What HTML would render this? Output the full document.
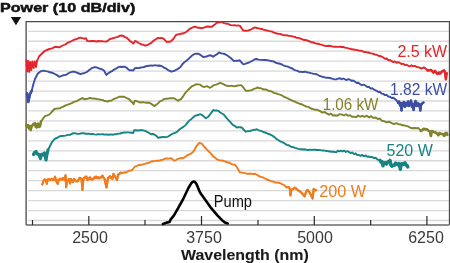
<!DOCTYPE html>
<html><head><meta charset="utf-8"><style>
html,body{margin:0;padding:0;background:#fff;}
body{width:450px;height:263px;overflow:hidden;position:relative;font-family:"Liberation Sans",sans-serif;}
svg{position:absolute;left:0;top:0;will-change:transform;}
</style></head><body>
<svg width="450" height="263" viewBox="0 0 450 263">
<g stroke="#d8d8d8" stroke-width="1.3"><line x1="28" y1="31.30" x2="449" y2="31.30"/><line x1="28" y1="41.26" x2="449" y2="41.26"/><line x1="28" y1="51.22" x2="449" y2="51.22"/><line x1="28" y1="61.17" x2="449" y2="61.17"/><line x1="28" y1="71.13" x2="449" y2="71.13"/><line x1="28" y1="81.09" x2="449" y2="81.09"/><line x1="28" y1="91.05" x2="449" y2="91.05"/><line x1="28" y1="101.01" x2="449" y2="101.01"/><line x1="28" y1="110.96" x2="449" y2="110.96"/><line x1="28" y1="120.92" x2="449" y2="120.92"/><line x1="28" y1="130.88" x2="449" y2="130.88"/><line x1="28" y1="140.84" x2="449" y2="140.84"/><line x1="28" y1="150.80" x2="449" y2="150.80"/><line x1="28" y1="160.75" x2="449" y2="160.75"/><line x1="28" y1="170.71" x2="449" y2="170.71"/><line x1="28" y1="180.67" x2="449" y2="180.67"/><line x1="28" y1="190.63" x2="449" y2="190.63"/><line x1="28" y1="200.59" x2="449" y2="200.59"/><line x1="28" y1="210.54" x2="449" y2="210.54"/><line x1="28" y1="220.50" x2="449" y2="220.50"/></g>
<g stroke="#4a4a4a" stroke-width="1.3" fill="none">
<polyline points="26.1,225 26.1,21.7 449.5,21.7 449.5,225"/>
</g>
<line x1="26" y1="225" x2="449" y2="225" stroke="#6a6a6a" stroke-width="1.5"/>
<g stroke="#2a2a2a" stroke-width="1.2"><line x1="88.8" y1="216" x2="88.8" y2="225"/><line x1="201.5" y1="216" x2="201.5" y2="225"/><line x1="314.3" y1="216" x2="314.3" y2="225"/><line x1="426.9" y1="216" x2="426.9" y2="225"/><line x1="32.5" y1="220" x2="32.5" y2="225"/><line x1="145" y1="220" x2="145" y2="225"/><line x1="258" y1="220" x2="258" y2="225"/><line x1="370.7" y1="220" x2="370.7" y2="225"/></g>
<polygon points="10.8,16.9 21.1,16.9 15.95,25.2" fill="#111"/>
<g fill="none" stroke-width="1.9" stroke-linejoin="round" stroke-linecap="round">
<polyline stroke="#e2262b" points="26.4,60.0 27.2,71.5 28.2,61.0 29.2,72.0 30.2,62.0 31.2,70.0 32.4,61.5 33.6,68.0 34.8,61.5 36.0,67.0 37.0,61.0 37.5,60.0 39.0,56.5 42.0,53.5 44.4,51.2 46.7,50.0 49.5,49.0 52.0,48.3 55.0,46.8 57.1,47.0 59.3,47.4 61.6,46.0 63.9,45.0 65.8,44.1 67.8,42.7 69.8,42.0 71.7,41.0 73.4,40.2 75.1,39.4 76.9,39.0 78.6,38.0 80.3,37.7 82.2,38.2 84.0,38.7 86.0,38.3 87.3,41.0 90.0,41.3 91.7,41.0 93.3,41.0 95.0,41.2 96.7,41.5 98.3,41.0 100.0,41.3 101.8,41.1 103.5,41.4 105.2,41.6 107.0,41.3 110.0,39.0 112.0,38.5 114.0,37.8 116.0,37.3 118.0,36.8 120.0,35.7 121.7,35.5 123.3,35.9 125.0,37.1 126.7,37.7 128.3,39.2 130.0,41.0 131.7,42.1 133.3,43.7 135.0,41.0 136.7,41.6 138.3,42.7 140.0,43.7 141.8,44.6 143.5,44.8 145.3,45.7 147.7,44.8 150.0,43.7 151.7,42.5 153.3,40.9 155.0,39.7 158.0,37.9 159.7,38.1 161.3,37.9 163.0,38.3 164.8,39.8 166.7,42.0 168.3,41.6 170.0,41.7 171.7,40.5 173.3,39.0 176.0,35.0 178.0,34.4 180.0,34.0 182.0,33.5 184.0,33.3 185.7,32.2 187.3,31.0 190.0,28.7 191.7,28.0 193.3,27.2 195.0,26.7 197.0,27.5 199.0,27.8 202.0,28.2 204.0,27.6 206.0,26.7 208.0,26.5 210.0,26.8 212.0,26.7 213.7,25.3 215.3,24.2 217.0,22.5 218.7,22.5 220.3,22.0 222.0,22.0 224.0,23.1 226.0,23.6 227.7,23.8 229.3,24.5 231.0,25.1 232.8,25.4 234.6,25.2 236.4,25.6 238.2,25.4 240.0,25.9 241.7,28.4 243.3,30.6 245.7,30.8 248.0,30.6 249.8,29.9 251.5,29.3 253.2,28.1 255.0,27.4 256.7,28.0 258.3,28.3 260.0,28.7 261.7,29.0 263.4,29.7 265.0,30.2 266.7,30.3 268.4,30.8 270.0,31.4 271.7,31.4 273.3,32.3 275.0,32.8 276.7,33.5 278.3,33.8 280.0,33.9 281.6,34.5 283.3,35.0 285.0,35.4 286.6,35.2 288.3,35.8 290.0,35.9 291.6,36.1 293.3,36.7 295.0,36.9 296.6,37.8 298.3,37.9 300.0,38.4 301.7,39.0 303.3,39.8 305.0,40.0 306.7,40.2 308.3,41.0 310.0,41.5 311.6,42.3 313.3,42.5 315.0,43.2 316.6,43.7 318.3,43.7 320.0,44.3 321.6,44.7 323.3,45.3 325.0,45.8 326.6,46.1 328.3,45.8 330.0,46.0 331.6,46.3 333.3,46.7 335.0,46.6 336.7,46.8 338.3,46.9 340.0,46.8 341.7,47.0 343.4,47.0 345.0,47.6 346.7,47.9 348.3,48.4 350.0,48.7 351.7,49.3 353.3,49.5 355.0,49.7 356.6,50.1 358.3,50.3 360.0,50.8 361.6,50.7 363.3,51.7 365.0,52.0 366.6,52.4 368.3,52.5 370.0,53.2 371.6,53.4 373.3,53.9 375.0,54.5 376.7,54.8 378.3,55.8 380.0,56.0 381.6,56.6 383.3,57.5 385.0,58.7 386.7,58.5 388.3,60.2 390.0,60.0 391.7,61.2 393.4,62.1 395.0,61.4 396.7,62.8 398.3,62.1 400.0,63.0 401.7,64.1 403.3,63.6 405.0,65.2 406.6,64.7 408.3,65.8 410.0,66.3 411.6,65.3 413.3,66.4 415.0,65.9 416.7,67.0 418.4,67.1 420.0,68.0 421.7,68.5 423.3,67.5 425.0,68.0 427.6,70.5 429.3,70.0 431.0,70.0 433.4,72.6 435.0,70.9 437.0,73.5 437.6,74.0 439.0,72.5 440.0,73.6 442.6,70.9 444.3,70.5 445.3,74.0 445.9,79.3 446.5,74.0 447.0,73.4"/>
<polyline stroke="#3d4fa3" points="27.1,93.4 28.3,102.0 30.0,94.2 31.7,90.8 33.4,84.0 35.1,78.8 37.7,73.7 39.4,72.2 41.1,71.1 43.7,70.6 45.7,71.1 47.7,71.4 49.7,72.3 51.4,72.5 53.1,73.2 54.8,74.0 57.0,75.1 59.1,76.8 61.1,76.1 63.1,75.3 65.1,75.0 66.8,74.4 68.5,73.3 70.2,72.3 72.1,71.8 74.0,71.7 75.7,72.2 77.3,72.8 79.0,73.5 80.7,74.2 82.4,73.4 84.0,73.3 85.7,72.5 87.3,71.7 89.0,70.1 90.7,69.0 92.3,67.8 94.0,67.3 95.7,67.3 97.3,67.6 99.0,68.5 100.7,68.9 102.3,69.5 104.0,70.5 106.3,74.9 108.2,73.3 110.0,72.1 112.0,71.2 114.0,69.6 116.0,68.7 118.0,67.4 120.0,66.7 121.7,67.0 123.3,66.7 125.0,66.7 126.6,67.7 128.2,69.2 129.8,70.4 131.5,70.1 133.2,70.5 135.0,68.2 136.9,68.0 138.8,68.1 140.7,67.5 142.4,67.4 144.0,67.0 145.7,66.3 147.3,66.0 149.0,65.8 150.7,65.4 152.3,65.7 154.0,65.4 155.7,65.3 157.4,65.7 159.0,65.5 160.7,65.8 162.4,66.4 164.0,67.7 165.7,68.3 167.6,69.8 169.6,70.8 171.5,71.7 173.2,71.2 174.8,70.6 176.5,69.7 178.6,68.4 180.7,66.7 182.3,64.4 184.0,62.5 186.1,60.9 188.2,59.2 190.1,57.4 192.1,55.5 194.0,54.2 196.1,53.6 198.2,53.7 199.9,54.6 201.5,55.7 203.2,57.0 204.9,56.7 206.5,56.5 208.2,55.8 210.7,55.3 213.2,56.7 215.1,55.3 217.1,54.2 219.0,52.5 220.7,53.2 222.3,53.6 224.0,53.7 225.7,54.6 227.3,55.5 229.0,56.7 230.7,58.0 232.3,59.5 234.0,61.2 235.9,60.7 237.9,60.7 239.8,60.3 241.5,62.5 243.2,64.2 245.1,63.9 247.1,63.1 249.0,62.5 250.9,61.5 252.9,60.5 254.8,59.2 256.6,59.0 258.4,59.6 260.2,59.9 262.1,59.9 263.9,60.0 265.7,60.0 267.4,60.3 269.0,60.4 270.6,61.1 272.3,61.2 274.0,61.7 275.6,62.6 277.3,63.3 279.0,63.5 280.6,64.0 282.3,64.7 284.0,65.7 285.7,66.2 287.3,66.4 289.0,67.1 290.7,68.0 292.4,68.5 294.0,69.8 295.7,70.4 297.3,70.7 299.0,71.7 301.0,71.9 303.0,72.0 305.0,71.7 307.0,72.3 309.0,72.6 311.0,73.2 313.0,73.7 314.7,73.9 316.3,74.2 318.0,75.0 319.7,76.0 321.3,76.4 323.0,77.0 324.8,77.3 326.5,77.8 328.2,77.7 330.0,78.0 332.0,78.7 334.0,79.2 336.0,79.4 338.0,78.6 340.0,78.3 341.7,79.2 343.3,78.5 345.0,79.4 346.7,80.0 348.3,79.1 350.0,79.7 351.7,80.9 353.3,80.5 355.0,81.7 356.7,83.0 358.3,82.8 360.0,84.1 361.9,85.2 363.8,84.7 365.7,85.8 367.4,87.1 369.0,86.8 370.7,88.6 372.3,88.3 374.0,89.6 376.7,90.8 378.4,92.1 380.0,91.8 381.6,93.6 383.3,93.9 385.0,95.1 386.6,94.8 388.3,96.5 390.0,96.7 391.7,98.0 393.3,97.7 395.0,99.0 396.7,100.5 398.0,102.8 399.0,101.5 400.0,105.5 400.8,103.0 401.5,110.5 402.3,103.0 403.0,106.0 404.0,102.0 405.0,107.0 406.0,103.0 407.0,105.5 408.0,101.5 409.0,106.0 410.0,103.0 411.0,100.5 412.0,107.0 413.0,104.0 413.5,110.0 414.5,104.0 415.5,101.0 416.5,106.0 417.5,103.0 418.5,106.0 419.5,104.0 420.3,110.5 421.0,105.0 422.0,103.5 423.5,102.5"/>
<polyline stroke="#81822c" points="26.5,125.0 27.2,127.0 28.0,125.0 29.0,128.5 30.0,126.0 30.8,130.0 31.6,126.0 32.5,125.4 33.5,124.0 35.0,123.3 35.8,127.0 36.7,127.5 37.5,124.0 38.4,123.7 39.2,127.0 40.0,126.2 41.0,121.6 43.0,118.7 45.0,116.2 47.5,115.3 50.0,114.0 51.7,112.0 54.4,109.0 56.2,108.6 58.0,108.5 59.8,108.4 61.6,107.3 63.3,106.7 65.1,105.7 67.1,104.8 69.2,104.1 71.2,103.4 73.5,102.1 75.7,101.4 77.4,100.8 79.2,99.6 80.9,98.8 82.6,98.0 84.0,99.2 85.7,99.0 87.3,98.9 89.0,98.2 90.7,98.0 92.4,98.6 94.0,98.5 95.7,98.8 97.4,99.1 99.0,99.4 100.7,99.7 102.3,99.9 104.0,100.7 105.7,101.0 107.3,101.7 109.0,100.8 110.6,100.8 112.3,100.0 114.0,98.9 115.7,98.3 117.3,97.7 119.0,96.7 120.7,96.7 122.3,96.6 124.0,96.7 125.7,97.5 127.3,98.4 129.0,99.2 130.7,101.0 132.3,102.5 133.5,104.2 134.8,100.8 136.8,101.1 138.7,102.0 140.7,102.5 142.3,102.3 144.0,102.3 145.7,102.7 147.3,102.5 150.0,103.0 152.3,104.6 154.7,106.1 156.5,104.6 158.2,103.1 160.0,101.4 162.0,100.5 164.0,99.1 166.0,98.8 168.0,98.6 170.0,98.3 172.0,98.3 174.0,98.3 176.0,99.5 178.0,100.7 181.0,99.1 182.7,96.9 184.3,94.4 186.0,92.1 189.0,89.0 192.0,86.2 194.0,85.3 196.0,84.3 198.0,84.4 200.0,84.6 202.0,86.2 204.0,87.1 207.0,86.2 210.0,87.8 212.0,86.6 214.0,85.1 216.0,84.6 218.0,83.9 220.0,82.8 221.8,83.4 223.7,84.3 225.5,85.4 227.3,85.8 229.0,86.2 230.7,85.8 232.3,85.9 234.0,86.3 235.9,86.0 237.8,85.5 239.6,85.4 241.5,85.3 243.6,87.8 245.7,90.8 247.4,90.8 249.0,90.7 250.7,90.3 252.3,89.9 254.0,88.7 255.7,88.4 257.3,87.5 259.0,88.0 260.6,88.1 262.3,89.0 264.0,89.5 265.6,89.4 267.3,90.0 269.0,91.0 270.7,91.2 272.3,91.9 274.0,92.9 275.7,93.2 277.9,94.2 280.0,94.7 281.7,95.3 283.3,96.3 285.0,97.2 286.7,97.9 288.3,98.6 290.0,99.6 291.7,100.2 293.3,101.2 295.0,101.5 296.7,102.6 298.3,103.2 300.0,104.0 301.7,104.3 303.3,105.2 305.0,106.0 306.7,106.6 308.3,106.9 310.0,107.9 311.7,108.8 313.3,109.1 315.0,109.8 316.7,109.7 318.3,110.3 320.0,111.0 322.3,112.6 324.7,112.0 327.0,113.6 329.0,114.7 331.0,113.7 333.0,115.5 335.0,115.2 337.3,115.7 339.7,114.1 342.0,114.6 344.0,115.5 346.0,114.2 348.0,115.8 350.0,115.2 352.0,116.7 354.0,116.7 356.1,117.2 358.1,115.5 360.2,116.7 362.3,115.8 364.5,116.8 366.8,115.7 369.0,117.4 371.2,116.2 373.5,117.9 375.7,117.5 377.8,119.1 379.9,118.5 381.9,120.8 384.0,121.0 386.4,122.3 388.9,121.6 391.3,122.9 393.8,124.1 396.2,123.2 398.7,124.4 400.5,124.4 402.4,125.3 404.2,125.3 406.0,125.8 408.0,126.4 409.9,127.4 411.9,128.3 415.0,128.0 416.7,128.3 418.4,128.0 420.9,131.0 423.4,128.9 425.0,129.3 426.7,129.3 428.4,130.4 430.0,131.8 430.9,136.0 431.8,131.0 434.0,132.0 436.0,132.7 437.5,134.0 438.4,135.2 439.5,133.0 441.0,133.9 443.0,134.0 444.3,136.0 445.5,133.0 446.7,133.0 447.4,134.8"/>
<polyline stroke="#168484" points="33.5,154.5 34.5,152.5 36.0,151.5 37.0,154.0 38.5,154.0 39.5,156.0 40.5,158.6 41.2,154.5 42.5,154.0 43.5,155.0 44.5,153.0 45.3,156.0 46.0,160.0 46.8,155.0 48.0,150.0 50.0,146.0 52.2,141.7 53.9,139.8 55.6,138.3 57.8,137.5 60.0,136.1 61.9,136.0 63.7,135.9 65.6,135.6 67.8,134.9 70.0,134.8 72.8,133.3 74.8,133.2 76.9,133.8 78.9,133.9 80.6,133.5 82.2,133.3 83.9,133.1 85.6,133.8 87.2,133.7 88.9,133.7 90.7,134.1 92.6,133.9 94.4,134.4 96.3,134.6 98.1,134.1 100.0,134.4 103.0,134.2 104.8,134.6 106.5,134.5 108.3,134.7 110.0,134.5 111.7,134.5 113.3,134.7 115.0,134.1 116.7,134.2 118.4,133.6 120.0,133.5 121.7,133.0 123.3,132.6 125.0,132.5 126.7,132.4 128.3,132.4 130.0,132.6 131.6,132.8 133.3,133.0 134.2,130.3 136.0,130.2 137.8,130.5 139.7,130.2 141.5,130.3 143.3,130.3 145.2,130.9 147.0,131.9 148.9,132.8 151.0,134.2 152.7,134.0 154.4,134.4 156.4,135.9 158.3,137.8 161.0,137.2 163.3,136.9 165.6,137.2 167.2,136.8 168.9,136.1 172.0,133.9 174.3,133.1 176.7,132.2 178.9,130.0 180.7,128.5 182.6,127.4 184.4,126.1 186.1,124.6 187.7,122.2 189.4,120.6 191.3,119.2 193.1,117.4 195.0,115.8 196.7,115.3 198.3,115.0 200.0,114.2 201.7,114.9 203.3,115.8 205.8,118.3 208.3,116.7 210.0,114.5 211.6,112.4 213.3,110.0 215.0,110.6 216.6,110.4 218.3,110.8 220.0,112.2 221.6,113.2 223.3,114.2 225.0,116.2 226.6,118.0 228.3,120.0 230.4,122.2 232.5,124.7 234.6,125.8 236.7,127.5 238.4,127.2 240.0,127.2 241.7,127.5 243.8,129.8 245.8,131.7 247.9,131.2 250.0,131.0 251.7,130.3 253.3,129.8 255.0,129.9 256.7,129.2 258.4,130.2 260.0,130.7 261.6,131.1 263.3,132.0 265.0,132.5 266.7,133.2 268.3,134.0 270.0,134.4 271.7,135.3 273.4,136.4 275.0,137.5 276.6,139.1 278.3,140.0 280.0,141.3 281.6,141.9 283.3,142.6 285.0,143.7 286.7,144.9 288.4,145.2 290.0,146.1 291.7,147.0 293.4,147.1 295.0,147.8 296.7,148.3 298.3,148.8 300.0,149.2 301.7,149.2 303.3,149.5 305.0,149.3 306.6,149.7 308.3,150.0 310.0,149.7 311.7,149.9 313.3,149.7 315.0,149.7 316.7,150.0 318.4,150.0 320.0,150.1 321.7,150.4 323.3,150.5 325.0,150.6 326.7,151.0 328.3,151.2 330.0,151.5 331.7,151.8 333.3,151.7 335.0,152.0 336.5,152.2 338.0,150.7 339.5,151.5 341.0,150.6 342.6,151.5 344.2,150.6 345.8,152.0 347.4,151.1 349.0,152.0 350.7,153.1 352.3,152.4 354.0,154.1 355.7,153.4 357.3,155.1 359.0,155.0 360.7,155.8 362.3,154.9 364.0,156.3 365.7,155.4 367.3,156.8 369.0,156.5 370.5,157.3 372.0,156.9 373.8,158.0 375.6,157.8 377.8,159.7 380.0,160.4 382.0,161.8 383.0,165.8 384.0,163.0 385.3,162.7 386.5,164.0 388.0,161.8 390.0,160.4 391.0,165.3 393.3,165.3 395.6,163.1 397.0,164.0 399.0,163.6 400.4,169.3 401.2,164.0 402.0,163.6 403.5,164.5 405.0,162.7 407.0,165.3 407.8,167.0"/>
<polyline stroke="#f07c1c" points="42.3,184.4 43.5,181.0 44.6,179.3 46.0,180.5 46.8,183.8 47.5,179.5 50.0,179.8 52.0,178.8 54.0,180.0 55.0,176.7 56.0,180.0 57.7,183.8 58.5,179.5 61.0,179.5 63.0,178.0 64.5,180.0 65.5,175.3 66.2,187.2 67.0,180.0 69.0,179.0 70.0,183.5 71.0,179.0 73.0,182.0 74.0,179.0 75.0,180.1 77.3,181.3 80.0,177.8 81.5,179.0 82.4,189.8 83.5,178.4 86.4,176.7 87.5,180.1 89.8,177.3 92.1,179.6 94.4,177.3 96.1,177.2 97.8,177.3 100.1,177.8 102.4,175.6 104.7,179.0 106.5,187.5 108.0,177.8 110.0,176.1 112.4,179.0 113.5,173.8 115.8,177.8 117.0,180.1 118.2,174.4 120.5,172.7 122.4,173.0 124.4,172.3 126.3,172.5 128.8,170.8 130.5,170.6 132.2,170.0 134.7,166.7 136.4,166.2 138.0,165.2 139.7,165.0 141.3,164.8 143.0,164.4 144.7,163.8 146.3,163.3 148.0,163.0 149.7,162.5 151.3,161.5 153.0,161.3 154.7,161.1 156.3,160.8 158.0,160.8 159.6,160.5 161.3,160.0 163.0,159.7 164.6,158.9 166.3,158.3 168.0,158.6 169.6,158.4 171.3,158.3 173.0,159.7 174.7,160.8 176.4,159.8 178.0,158.8 179.7,158.3 181.5,158.0 183.3,158.3 185.0,157.0 186.7,155.8 188.4,154.6 190.0,154.2 191.7,153.0 193.3,151.7 195.0,148.8 196.7,145.8 199.2,143.0 201.7,143.7 203.3,145.7 205.0,147.5 206.7,149.3 208.3,151.0 210.0,152.5 211.7,154.6 213.3,156.7 215.0,157.5 216.6,159.1 218.3,160.0 220.0,160.4 221.6,160.5 223.3,160.8 225.0,161.4 226.6,162.0 228.3,162.5 230.0,163.0 231.7,164.2 233.3,164.6 235.0,164.7 237.5,168.3 240.0,172.5 241.7,172.6 243.3,172.8 245.0,173.2 246.7,173.7 248.4,173.9 250.0,173.5 251.7,173.9 253.3,174.0 255.0,173.7 256.7,174.7 258.3,175.6 260.0,176.7 261.6,177.1 263.3,177.5 265.0,178.5 266.6,179.4 268.3,180.0 270.0,180.7 271.6,181.3 273.3,181.6 275.0,182.5 276.7,182.4 278.3,182.7 280.0,183.0 281.9,184.1 283.7,184.8 286.4,187.1 289.0,187.1 290.2,190.0 290.5,195.4 291.2,190.0 292.0,189.4 294.0,188.5 295.0,187.6 296.0,188.5 298.0,190.3 301.0,192.2 303.0,194.5 304.6,196.3 306.0,192.0 307.4,189.9 309.2,191.7 311.0,195.0 312.6,198.5 313.2,193.0 313.7,189.0 315.5,190.3 316.0,189.9"/>
<polyline stroke="#000" stroke-width="2.6" points="162.9,224.0 166.5,222.6 169.6,222.0 170.7,219.3 173.8,215.7 178.0,208.4 183.2,199.0 188.4,188.0 191.2,183.3 192.6,182.0 193.8,181.6 195.0,182.0 196.6,184.3 199.9,192.2 202.0,195.3 206.1,201.0 211.4,208.4 217.6,215.7 221.8,219.9 224.9,222.6 227.7,223.4"/>
<polyline stroke="#e2262b" stroke-width="2.5" points="427.6,70.5 431.0,70.0 433.4,72.6 435.0,70.9 437.0,73.5 437.6,74.0 439.0,72.5 440.0,73.6 442.6,70.9 444.3,70.5 445.3,74.0 445.9,79.3 446.5,74.0 447.0,73.4"/><polyline stroke="#3d4fa3" stroke-width="2.5" points="398.0,102.8 399.0,101.5 400.0,105.5 400.8,103.0 401.5,110.5 402.3,103.0 403.0,106.0 404.0,102.0 405.0,107.0 406.0,103.0 407.0,105.5 408.0,101.5 409.0,106.0 410.0,103.0 411.0,100.5 412.0,107.0 413.0,104.0 413.5,110.0 414.5,104.0 415.5,101.0 416.5,106.0 417.5,103.0 418.5,106.0 419.5,104.0 420.3,110.5 421.0,105.0 422.0,103.5 423.5,102.5"/><polyline stroke="#3d4fa3" stroke-width="2.6" points="27.1,93.4 28.3,102.0 30.0,94.2 31.7,90.8"/><polyline stroke="#81822c" stroke-width="2.5" points="26.5,125.0 27.2,127.0 28.0,125.0 29.0,128.5 30.0,126.0 30.8,130.0 31.6,126.0 32.5,125.4 33.5,124.0 35.0,123.3 35.8,127.0 36.7,127.5 37.5,124.0 38.4,123.7 39.2,127.0 40.0,126.2 41.0,121.6"/><polyline stroke="#81822c" stroke-width="2.6" points="420.9,131.0 423.4,128.9 426.7,129.3 430.0,131.8 430.9,136.0 431.8,131.0 434.0,132.0 436.0,132.7 437.5,134.0 438.4,135.2 439.5,133.0 441.0,133.9 443.0,134.0 444.3,136.0 445.5,133.0 446.7,133.0 447.4,134.8"/><polyline stroke="#168484" stroke-width="3.2" points="33.5,154.5 34.5,152.5 36.0,151.5 37.0,154.0 38.5,154.0 39.5,156.0 40.5,158.6 41.2,154.5 42.5,154.0 43.5,155.0 44.5,153.0 45.3,156.0 46.0,160.0 46.8,155.0 48.0,150.0"/><polyline stroke="#168484" stroke-width="3.4" points="380.0,160.4 381.0,162.1 382.0,161.8 383.0,165.8 384.0,163.0 385.3,162.7 386.5,164.0 388.0,161.8 389.0,162.1 390.0,160.4 391.0,165.3 392.1,166.3 393.3,165.3 394.5,165.2 395.6,163.1 397.0,164.0 398.0,164.8 399.0,163.6 400.4,169.3 401.2,164.0 402.0,163.6 403.5,164.5 405.0,162.7 406.0,165.0 407.0,165.3 407.8,167.0"/><polyline stroke="#f07c1c" stroke-width="2.3" points="286.4,187.1 289.0,187.1 290.2,190.0 290.5,195.4 291.2,190.0 292.0,189.4 294.0,188.5 295.0,187.6 296.0,188.5 298.0,190.3 301.0,192.2 303.0,194.5 304.6,196.3 306.0,192.0 307.4,189.9 309.2,191.7 311.0,195.0 312.6,198.5 313.2,193.0 313.7,189.0 315.5,190.3 316.0,189.9"/><polyline stroke="#f07c1c" stroke-width="2.2" points="42.3,184.4 43.5,181.0 44.6,179.3 46.0,180.5 46.8,183.8 47.5,179.5 48.3,180.4 49.2,178.9 50.0,179.8 51.0,180.1 52.0,178.8 53.0,180.2 54.0,180.0 55.0,176.7 56.0,180.0 56.9,182.7 57.7,183.8 58.5,179.5 59.3,180.3 60.2,178.7 61.0,179.5 62.0,179.6 63.0,178.0 64.5,180.0 65.5,175.3 66.2,187.2 67.0,180.0 68.0,180.3 69.0,179.0 70.0,183.5 71.0,179.0 72.0,181.3 73.0,182.0 74.0,179.0 75.0,180.1 76.2,181.5 77.3,181.3 78.2,180.9 79.1,178.2 80.0,177.8 81.5,179.0 82.4,189.8 83.5,178.4 84.5,178.6 85.4,176.5 86.4,176.7 87.5,180.1 88.7,179.5 89.8,177.3 90.9,179.2 92.1,179.6 93.2,179.2 94.4,177.3 95.2,178.1 96.1,176.5 97.0,178.1 97.8,177.3 98.9,178.4 100.1,177.8 101.2,177.5 102.4,175.6 103.6,178.1 104.7,179.0 105.6,184.1 106.5,187.5 108.0,177.8 109.0,177.8 110.0,176.1 110.8,177.9 111.6,177.2 112.4,179.0 113.5,173.8 114.7,176.6 115.8,177.8 117.0,180.1 118.2,174.4 119.3,174.4 120.5,172.7"/>
</g>
<g font-family="Liberation Sans, sans-serif">
<text x="0" y="11.8" font-size="13.6" font-weight="bold" fill="#111" stroke="#111" stroke-width="0.5" textLength="135.3" lengthAdjust="spacingAndGlyphs">Power (10 dB/div)</text>
<text x="181" y="260" font-size="14.3" font-weight="bold" fill="#1a1a1a" stroke="#1a1a1a" stroke-width="0.1" textLength="127.7" lengthAdjust="spacingAndGlyphs">Wavelength (nm)</text>
<g font-size="16" fill="#3a3a3a" text-anchor="middle">
<text x="90" y="242.5">2500</text><text x="204" y="242.5">3750</text><text x="315" y="242.5">5000</text><text x="426" y="242.5">6250</text>
</g>
<g font-size="16">
<text x="397.4" y="56.7" fill="#e2262b" textLength="49.8" lengthAdjust="spacingAndGlyphs">2.5 kW</text>
<text x="390.0" y="95.4" fill="#3d4fa3" textLength="57.2" lengthAdjust="spacingAndGlyphs">1.82 kW</text>
<text x="322.7" y="109.7" fill="#81822c" textLength="55.7" lengthAdjust="spacingAndGlyphs">1.06 kW</text>
<text x="386.6" y="155.8" fill="#168484" textLength="46.2" lengthAdjust="spacingAndGlyphs">520 W</text>
<text x="319.2" y="196.6" fill="#f07c1c" textLength="46.7" lengthAdjust="spacingAndGlyphs">200 W</text>
<text x="213.8" y="206.5" fill="#111" textLength="38.2" lengthAdjust="spacingAndGlyphs">Pump</text>
</g>
</g>
</svg>
</body></html>
